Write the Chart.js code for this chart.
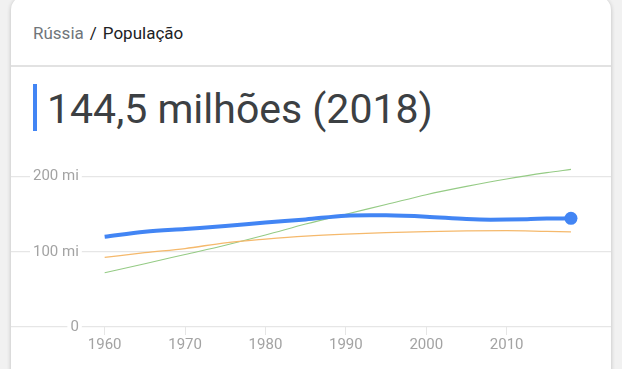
<!DOCTYPE html>
<html lang="pt">
<head>
    <meta charset="UTF-8">
    <title>Rússia - População</title>
    <script src="https://cdn.jsdelivr.net/npm/chart.js"></script>
    <style>
        body {
            margin: 0;
            background: #f1f1f1;
            width: 622px;
            height: 369px;
            overflow: hidden;
            font-family: Roboto, Arial, sans-serif;
        }
        .card {
            position: absolute;
            left: 11px;
            top: -4px;
            width: 600px;
            height: 400px;
            background: #fff;
            border-radius: 14px;
            box-shadow: 0 1px 4px rgba(0, 0, 0, 0.22);
        }
        .crumb {
            position: absolute;
            left: 22px;
            top: 26.5px;
            font-size: 17px;
            line-height: 20px;
            color: #202124;
            white-space: nowrap;
        }
        .crumb .pais { color: #70757a; }
        .crumb .sep { margin: 0 6px; }
        .divider {
            position: absolute;
            left: 0;
            top: 69px;
            width: 600px;
            height: 1.5px;
            background: #e2e2e2;
        }
        .barra {
            position: absolute;
            left: 22px;
            top: 88px;
            width: 3.5px;
            height: 47px;
            background: #4285f4;
        }
        .titulo {
            position: absolute;
            left: 36px;
            top: 89px;
            font-size: 41px;
            line-height: 48px;
            color: #3c4043;
            white-space: nowrap;
        }
        #grafico {
            position: absolute;
            left: 11px;
            top: 129px;
        }
    </style>
</head>
<body>
    <div class="card">
        <div class="crumb"><span class="pais">Rússia</span><span class="sep">/</span>População</div>
        <div class="divider"></div>
        <div class="barra"></div>
        <div class="titulo">144,5 milhões (2018)</div>
    </div>
    <canvas id="grafico" width="600" height="240"></canvas>

    <script>
        // dados (milhões de habitantes)
        const anosRussia = [1960, 1965, 1970, 1975, 1980, 1985, 1990, 1993, 1995, 2000, 2005, 2008, 2010, 2013, 2015, 2018];
        const russia = [119.9, 126.5, 130.4, 134.2, 139.0, 143.0, 148.0, 148.5, 148.4, 146.6, 143.5, 142.7, 142.8, 143.5, 144.1, 144.5];

        const anos = [1960, 1965, 1970, 1975, 1980, 1985, 1990, 1995, 2000, 2005, 2010, 2015, 2018];
        const japao = [92.5, 98.9, 104.3, 111.9, 116.8, 120.8, 123.5, 125.4, 126.8, 127.8, 128.1, 127.1, 126.5];
        const brasil = [72.2, 84.1, 96.4, 108.7, 122.2, 136.8, 150.0, 162.8, 175.9, 186.9, 196.8, 205.2, 209.5];

        const xTicks = [1960, 1970, 1980, 1990, 2000, 2010];
        const yTicks = [0, 100, 200];

        const pontos = (xs, ys) => xs.map((x, i) => ({ x: x, y: ys[i] }));
        const corTexto = "#a3a3a3";
        const corGrade = "#e6e6e6";

        new Chart(document.getElementById("grafico"), {
            type: "line",
            data: {
                datasets: [
                    {
                        data: pontos(anosRussia, russia),
                        borderColor: "#4285f4",
                        backgroundColor: "#4285f4",
                        borderWidth: 4,
                        cubicInterpolationMode: "monotone",
                        pointRadius: ctx => ctx.dataIndex === russia.length - 1 ? 6.5 : 0,
                        pointBorderWidth: 0,
                    },
                    {
                        data: pontos(anos, japao),
                        borderColor: "#f5b96c",
                        borderWidth: 1.3,
                        cubicInterpolationMode: "monotone",
                        pointRadius: 0,
                    },
                    {
                        data: pontos(anos, brasil),
                        borderColor: "#95cb85",
                        borderWidth: 1.1,
                        cubicInterpolationMode: "monotone",
                        pointRadius: 0,
                    },
                ],
            },
            options: {
                responsive: false,
                devicePixelRatio: 1,
                animation: false,
                layout: { autoPadding: false, padding: { top: 10, bottom: 14, left: 0, right: 0 } },
                plugins: {
                    legend: { display: false },
                    tooltip: { enabled: false },
                },
                scales: {
                    x: {
                        type: "linear",
                        min: 1948.35,
                        max: 2022.98,
                        afterBuildTicks: s => { s.ticks = xTicks.map(v => ({ value: v })); },
                        border: { display: false },
                        grid: {
                            drawOnChartArea: false,
                            drawTicks: true,
                            tickLength: 8,
                            color: corGrade,
                        },
                        ticks: {
                            color: corTexto,
                            padding: 1,
                            maxRotation: 0,
                            font: { family: "Roboto", size: 15 },
                            callback: v => String(v),
                        },
                    },
                    y: {
                        min: 0,
                        max: 222,
                        afterBuildTicks: s => { s.ticks = yTicks.map(v => ({ value: v })); },
                        afterFit: s => { s.width = 0; },
                        border: { display: false },
                        grid: {
                            color: corGrade,
                            lineWidth: 1.2,
                            drawTicks: false,
                        },
                        ticks: {
                            mirror: true,
                            crossAlign: "far",
                            padding: 22,
                            color: corTexto,
                            font: { family: "Roboto", size: 15 },
                            showLabelBackdrop: true,
                            backdropColor: "#ffffff",
                            backdropPadding: { left: 3, right: 3, top: 0, bottom: 0 },
                            callback: v => v === 0 ? "0" : v + " mi",
                        },
                    },
                },
            },
        });
    </script>
</body>
</html>
